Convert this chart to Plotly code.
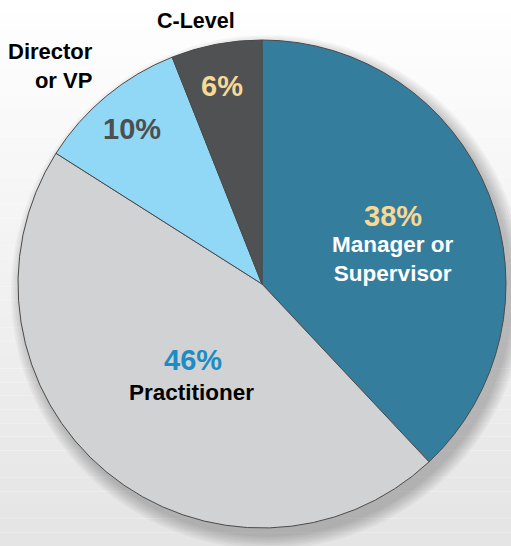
import plotly.graph_objects as go

# datos del gráfico (porcentajes por nivel)
niveles = ["Manager or<br>Supervisor", "Practitioner", "Director<br>or VP", "C-Level"]
porcentajes = [38, 46, 10, 6]
colores = ["#357d9d", "#d1d2d4", "#91d7f6", "#505153"]
color_pct = ["#f7d995", "#1d8cc2", "#4d4e50", "#f7d995"]
color_txt = ["#ffffff", "#000000", "#000000", "#000000"]

W, H = 511, 546
cx, cy, r = 262, 284, 244   # centro y radio del pastel en px

fig = go.Figure()

fig.add_trace(go.Pie(
    labels=niveles,
    values=porcentajes,
    sort=False,
    direction="clockwise",
    rotation=0,
    marker=dict(colors=colores, line=dict(color="#4a4a4a", width=1)),
    textinfo="none",
    hoverinfo="label+percent",
    showlegend=False,
    domain=dict(x=[(cx - r) / W, (cx + r) / W],
                y=[(H - cy - r) / H, (H - cy + r) / H]),
))

# fondo degradado (blanco arriba, gris abajo)
shapes = []
n = 40
for i in range(n):
    t = i / (n - 1)
    g = int(255 - (255 - 229) * t)
    shapes.append(dict(type="rect", xref="paper", yref="paper", layer="below",
                       x0=0, x1=1, y0=1 - (i + 1) / n, y1=1 - i / n,
                       fillcolor=f"rgb({g},{g},{g})", line=dict(width=0)))
# sombra del pastel
for k in range(7):
    rr = r + 1 + k * 2
    shapes.append(dict(type="circle", xref="x", yref="y", layer="below",
                       x0=cx + 6 - rr, x1=cx + 6 + rr, y0=cy + 8 - rr, y1=cy + 8 + rr,
                       fillcolor="rgba(0,0,0,0.035)", line=dict(width=0)))

fuente = "Liberation Sans"
anots = []
# porcentajes y etiquetas dentro del pastel
pos_pct = [(393, 216), (193, 360), (132, 129), (222, 86)]
pos_lab = [(393, 259), (191, 392), None, None]
for i in range(len(niveles)):
    x, y = pos_pct[i]
    anots.append(dict(x=x, y=y, text=f"{porcentajes[i]}%", showarrow=False,
                      font=dict(family=fuente, size=29, color=color_pct[i], weight="bold")))
    if pos_lab[i] is not None:
        x, y = pos_lab[i]
        anots.append(dict(x=x, y=y, text=niveles[i], showarrow=False,
                          font=dict(family=fuente, size=22.5, color=color_txt[i], weight="bold")))
# etiquetas fuera del pastel
anots.append(dict(x=95, y=66, text=niveles[2], showarrow=False, xanchor="right", align="right",
                  font=dict(family=fuente, size=22, color="#000000", weight="bold")))
anots.append(dict(x=196, y=21, text=niveles[3], showarrow=False,
                  font=dict(family=fuente, size=21.5, color="#000000", weight="bold")))

fig.update_layout(
    width=W, height=H,
    margin=dict(l=0, r=0, t=0, b=0),
    paper_bgcolor="#ffffff",
    plot_bgcolor="rgba(0,0,0,0)",
    xaxis=dict(range=[0, W], visible=False, fixedrange=True),
    yaxis=dict(range=[H, 0], visible=False, fixedrange=True),
    shapes=shapes,
    annotations=anots,
)

fig.write_html("out.html", config={"displayModeBar": False},
               post_script="document.body.style.margin='0';")
